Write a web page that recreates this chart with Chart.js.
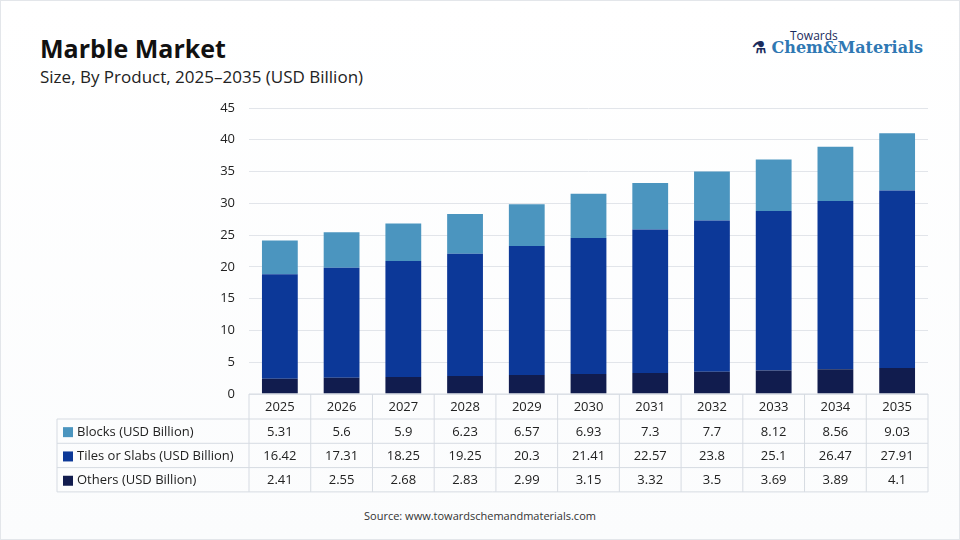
<!DOCTYPE html>
<html><head><meta charset="utf-8">
<script src="https://cdn.jsdelivr.net/npm/chart.js@4"></script>
<style>
body{margin:0;width:960px;height:540px;background:#fff;font-family:"Open Sans",sans-serif;overflow:hidden}
#wrap{position:absolute;left:0;top:0;width:960px;height:540px;border:1px solid #e3e6ea;box-sizing:border-box;background:linear-gradient(#fff,#fbfcfd)}
#t{position:absolute;left:40px;top:31px;font-size:25px;font-weight:700;color:#111}
#s{position:absolute;left:40px;top:65px;font-size:17px;color:#222}
#src{position:absolute;left:0;width:960px;text-align:center;top:508px;font-size:11px;color:#333}
#logo1{position:absolute;left:790px;top:27px;font-size:12px;color:#1a2b5c}
#logo2{position:absolute;left:752px;top:38px;font-family:"DejaVu Serif",serif;font-size:16px;color:#2f78b3;font-weight:700}
canvas{position:absolute;left:0;top:0}
</style></head><body>
<div id="wrap"></div>
<div id="t">Marble Market</div>
<div id="s">Size, By Product, 2025–2035 (USD Billion)</div>
<div id="logo1">Towards</div>
<div id="logo2"><span style="color:#1a2b5c">⚗</span> Chem&amp;Materials</div>
<div id="src">Source: www.towardschemandmaterials.com</div>
<canvas id="c" width="960" height="540"></canvas>
<script>
const years=["2025","2026","2027","2028","2029","2030","2031","2032","2033","2034","2035"];
const blocks=[5.31,5.6,5.9,6.23,6.57,6.93,7.3,7.7,8.12,8.56,9.03];
const tiles=[16.42,17.31,18.25,19.25,20.3,21.41,22.57,23.8,25.1,26.47,27.91];
const others=[2.41,2.55,2.68,2.83,2.99,3.15,3.32,3.5,3.69,3.89,4.1];
const names=["Blocks (USD Billion)","Tiles or Slabs (USD Billion)","Others (USD Billion)"];
const colors=["#4b95bf","#0c3898","#111c4e"];
const yTicks=[0,5,10,15,20,25,30,35,40,45];
const rows=[blocks,tiles,others];
const tablePlugin={id:'tbl',afterDraw(ch){
 const ctx=ch.ctx,x=ch.scales.x,a=ch.chartArea;
 const L=57,R=a.right,top=a.bottom,rh=24.3,hh=25;
 const step=(a.right-a.left)/years.length;
 ctx.save();ctx.strokeStyle="#d6dbe2";ctx.lineWidth=1;
 const ys=[top,top+hh,top+hh+rh,top+hh+2*rh,top+hh+3*rh];
 ctx.beginPath();
 ctx.moveTo(a.left,ys[0]);ctx.lineTo(R,ys[0]);
 for(let i=1;i<ys.length;i++){ctx.moveTo(L,ys[i]);ctx.lineTo(R,ys[i]);}
 ctx.moveTo(L,ys[1]);ctx.lineTo(L,ys[4]);
 for(let i=0;i<=years.length;i++){const xx=a.left+i*step;ctx.moveTo(xx,ys[0]);ctx.lineTo(xx,ys[4]);}
 ctx.stroke();
 ctx.fillStyle="#222";ctx.font='13px "Open Sans"';ctx.textAlign="center";ctx.textBaseline="middle";
 years.forEach((y,i)=>ctx.fillText(y,x.getPixelForValue(i),(ys[0]+ys[1])/2+1));
 rows.forEach((r,j)=>{const cy=(ys[j+1]+ys[j+2])/2+1;
  r.forEach((v,i)=>ctx.fillText(String(v),x.getPixelForValue(i),cy));
  ctx.fillStyle=colors[j];ctx.fillRect(63,cy-5,10,10);ctx.fillStyle="#222";
  ctx.textAlign="left";ctx.fillText(names[j],77,cy);ctx.textAlign="center";});
 ctx.restore();}};
new Chart(document.getElementById("c"),{type:"bar",
 data:{labels:years,datasets:[
  {label:names[2],data:others,backgroundColor:colors[2]},
  {label:names[1],data:tiles,backgroundColor:colors[1]},
  {label:names[0],data:blocks,backgroundColor:colors[0]}]},
 options:{responsive:false,animation:false,devicePixelRatio:1,
  layout:{padding:{top:108,right:32,bottom:138,left:0}},
  plugins:{legend:{display:false},tooltip:{enabled:false}},
  datasets:{bar:{categoryPercentage:0.58,barPercentage:1}},
  scales:{
   x:{stacked:true,grid:{display:false},border:{display:false},ticks:{display:false}},
   y:{stacked:true,min:0,max:45,afterFit(s){s.width=249;},
      afterBuildTicks(s){s.ticks=yTicks.map(v=>({value:v}));},
      grid:{color:"#e2e5ea",drawTicks:false},border:{display:false},
      ticks:{padding:14,color:"#222",font:{family:"Open Sans",size:13}}}}},
 plugins:[tablePlugin]});
</script></body></html>
